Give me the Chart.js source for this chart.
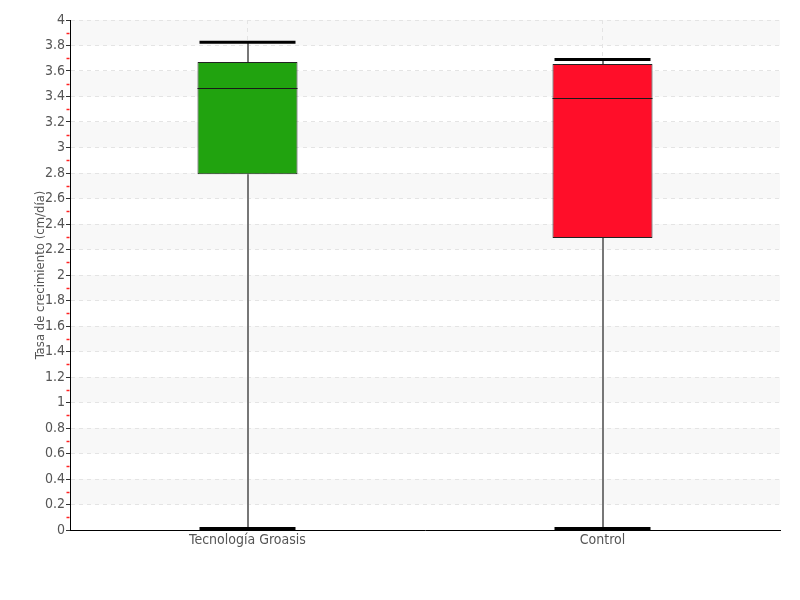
<!DOCTYPE html>
<html><head><meta charset="utf-8">
<script src="https://cdn.jsdelivr.net/npm/chart.js@4"></script>
<style>html,body{margin:0;padding:0;background:#fff}#wrap{width:800px;height:600px}</style>
</head><body><div id="wrap"><canvas id="c" width="800" height="600"></canvas></div>
<script>
const categories = ['Tecnología Groasis', 'Control'];
const whiskerMin = [0, 0];
const q1Values = [2.79, 2.29];
const medianValues = [3.47, 3.39];
const q3Values = [3.67, 3.655];
const whiskerMax = [3.825, 3.69];
const boxColors = ['#21a30f', '#ff0e29'];
const yTickLabels = ['0','0.2','0.4','0.6','0.8','1','1.2','1.4','1.6','1.8','2','2.2','2.4','2.6','2.8','3','3.2','3.4','3.6','3.8','4'];
const yTitle = 'Tasa de crecimiento (cm/día)';

const FONT = '"Liberation Sans Narrow", "DejaVu Sans Condensed", sans-serif';

const bandsPlugin = {
  id: 'bands',
  beforeDraw(chart) {
    const {ctx, chartArea: a, scales: {y}} = chart;
    ctx.save();
    ctx.fillStyle = '#f8f8f8';
    for (let v = 0.2; v < 4; v += 0.4) {
      const t = y.getPixelForValue(v + 0.2), b = y.getPixelForValue(v);
      ctx.fillRect(a.left, t, a.right - a.left, b - t);
    }
    ctx.restore();
  },
  afterDraw(chart) {
    const {ctx, chartArea: a, scales: {y}} = chart;
    ctx.save();
    ctx.strokeStyle = '#ff2020';
    ctx.lineWidth = 1.5;
    for (let i = 1; i < 40; i += 2) {
      const py = Math.round(y.getPixelForValue(i * 0.1)) + 0.5;
      ctx.beginPath(); ctx.moveTo(a.left - 3.5, py); ctx.lineTo(a.left - 0.5, py); ctx.stroke();
    }
    ctx.restore();
  }
};

const boxPlugin = {
  id: 'boxparts',
  beforeDatasetsDraw(chart) {
    const {ctx, scales: {x, y}} = chart;
    ctx.save();
    ctx.strokeStyle = '#777';
    ctx.lineWidth = 2;
    categories.forEach((c, i) => {
      const px = Math.round(x.getPixelForValue(i));
      ctx.beginPath();
      ctx.moveTo(px, y.getPixelForValue(whiskerMin[i]));
      ctx.lineTo(px, y.getPixelForValue(q1Values[i]));
      ctx.moveTo(px, y.getPixelForValue(q3Values[i]));
      ctx.lineTo(px, y.getPixelForValue(whiskerMax[i]));
      ctx.stroke();
    });
    ctx.restore();
  },
  afterDatasetsDraw(chart) {
    const {ctx, scales: {x, y}} = chart;
    const meta = chart.getDatasetMeta(0);
    ctx.save();
    categories.forEach((c, i) => {
      const bar = meta.data[i];
      const half = bar.width / 2;
      const px = x.getPixelForValue(i);
      ctx.strokeStyle = '#1a1a1a';
      ctx.lineWidth = 1;
      const my = Math.round(y.getPixelForValue(medianValues[i])) + 0.5;
      ctx.beginPath(); ctx.moveTo(px - half, my); ctx.lineTo(px + half, my); ctx.stroke();
      ctx.strokeStyle = '#000';
      ctx.lineWidth = 3;
      const capHalf = half - 2;
      [whiskerMin[i], whiskerMax[i]].forEach(v => {
        let cy = y.getPixelForValue(v);
        if (v === 0) cy -= 1.5;
        ctx.beginPath(); ctx.moveTo(px - capHalf, cy); ctx.lineTo(px + capHalf, cy); ctx.stroke();
      });
    });
    ctx.restore();
  }
};

new Chart(document.getElementById('c'), {
  type: 'bar',
  data: {
    labels: categories,
    datasets: [{
      data: categories.map((c, i) => [q1Values[i], q3Values[i]]),
      backgroundColor: boxColors,
      borderColor: '#222',
      borderWidth: 1,
      borderSkipped: false,
      categoryPercentage: 1,
      barPercentage: 0.2817
    }]
  },
  options: {
    responsive: false,
    animation: false,
    layout: {padding: {left: 0, right: 20, top: 20, bottom: 40}},
    plugins: {legend: {display: false}, tooltip: {enabled: false}},
    scales: {
      x: {
        offset: true,
        grid: {offset: false, color: '#e4e4e4', drawTicks: false},
        border: {color: '#000', width: 1, dash: [4, 4]},
        ticks: {color: '#555', font: {family: FONT, size: 14}, padding: 2},
        afterFit(s) { s.height = 30; }
      },
      y: {
        min: 0, max: 4,
        ticks: {stepSize: 0.2, color: '#555', font: {family: FONT, size: 14}, padding: 1,
          callback: (v, i) => yTickLabels[i]},
        grid: {color: '#e4e4e4', tickColor: '#333', tickLength: 4},
        border: {color: '#000', width: 1, dash: [4, 4]},
        title: {display: true, text: yTitle, color: '#555', font: {family: FONT, size: 13}, padding: {top: 33, bottom: 0}},
        afterFit(s) { s.width = 70; }
      }
    }
  },
  plugins: [bandsPlugin, boxPlugin]
});
</script></body></html>
